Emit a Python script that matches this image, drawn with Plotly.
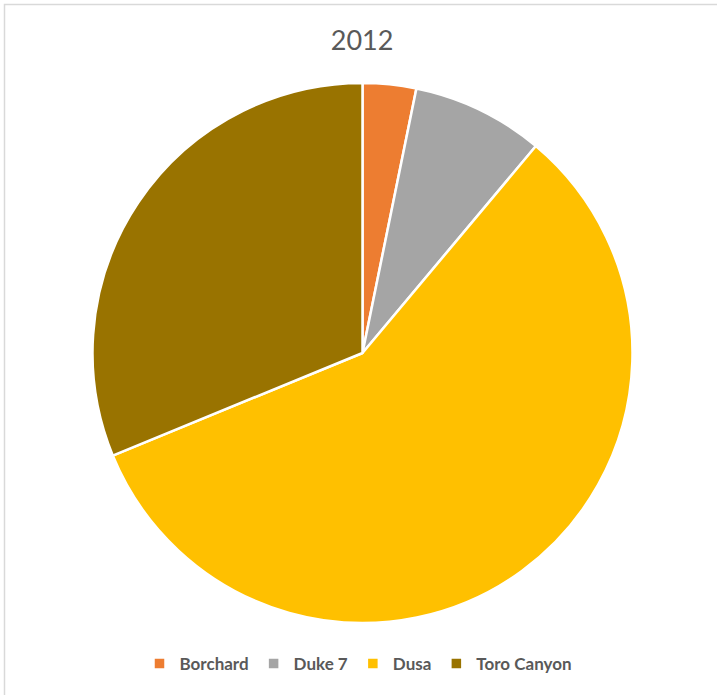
import plotly.graph_objects as go

# Share of output by lease, 2012 (percent)
labels = ["Borchard", "Duke 7", "Dusa", "Toro Canyon"]
values = [3.2, 7.9, 57.7, 31.2]
colors = ["#ED7D31", "#A5A5A5", "#FFC000", "#997300"]

W, H = 717, 695
cx, cy, r = 362.5, 353, 270

fig = go.Figure(
    go.Pie(
        labels=labels,
        values=values,
        sort=False,
        direction="clockwise",
        rotation=0,
        textinfo="none",
        hoverinfo="label+percent",
        marker=dict(colors=colors, line=dict(color="#FFFFFF", width=2.5)),
        domain=dict(
            x=[(cx - r) / W, (cx + r) / W],
            y=[1 - (cy + r) / H, 1 - (cy - r) / H],
        ),
    )
)

fig.update_layout(
    width=W,
    height=H,
    margin=dict(l=0, r=0, t=0, b=0),
    paper_bgcolor="#FFFFFF",
    title=dict(
        text="2012",
        x=0.505,
        xanchor="center",
        y=1 - 41 / H,
        yanchor="middle",
        font=dict(family="Lato", size=27, color="#595959"),
    ),
    legend=dict(
        orientation="h",
        x=0.5,
        xanchor="center",
        y=1 - 664 / H,
        yanchor="middle",
        font=dict(family="Lato", size=17, color="#595959", weight="bold"),
        itemclick=False,
    ),
    shapes=[
        dict(
            type="rect",
            xref="paper",
            yref="paper",
            x0=4.5 / W,
            x1=1.2,
            y0=-0.2,
            y1=1 - 4.5 / H,
            line=dict(color="#D9D9D9", width=1.5),
            fillcolor="rgba(0,0,0,0)",
        )
    ],
)

fig.write_html("out.html")
